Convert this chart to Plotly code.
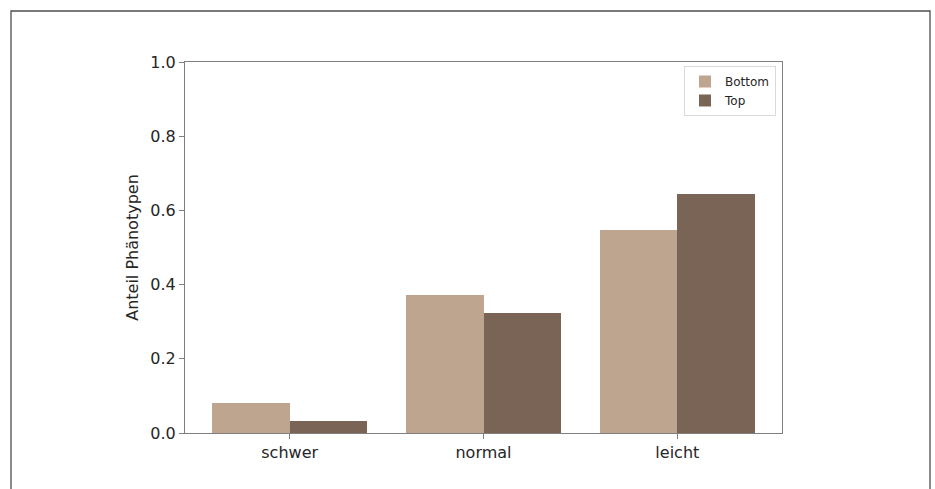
import plotly.graph_objects as go

categories = ["schwer", "normal", "leicht"]
bottom_vals = [0.081, 0.372, 0.547]
top_vals = [0.032, 0.323, 0.644]
y_ticks = [0.0, 0.2, 0.4, 0.6, 0.8, 1.0]
y_tick_labels = ["0.0", "0.2", "0.4", "0.6", "0.8", "1.0"]

x_idx = list(range(len(categories)))

fig = go.Figure()
fig.add_trace(go.Bar(x=[i - 0.2 for i in x_idx], y=bottom_vals, width=0.4,
                     name="Bottom", marker=dict(color="#bea590", line=dict(width=0))))
fig.add_trace(go.Bar(x=[i + 0.2 for i in x_idx], y=top_vals, width=0.4,
                     name="Top", marker=dict(color="#7a6455", line=dict(width=0))))

W, H = 935, 489
L, R, T, B = 185, 782, 62, 433
pw, ph = R - L, B - T

def px(x):
    return (x - L) / pw

def py(y):
    return (B - y) / ph

fig.update_layout(
    width=W, height=H,
    margin=dict(l=L, r=W - R, t=T, b=H - B),
    paper_bgcolor="white", plot_bgcolor="white",
    font=dict(family="DejaVu Sans", size=15, color="#262626"),
    barmode="overlay",
    bargap=0,
    showlegend=True,
    legend=dict(x=px(776), y=py(66), xanchor="right", yanchor="top",
                bgcolor="white", bordercolor="#d9d9d9", borderwidth=1,
                font=dict(size=12, color="#262626"), traceorder="normal",
                itemsizing="constant"),
    xaxis=dict(range=[-0.54, 2.54], tickmode="array", tickvals=x_idx, ticktext=categories,
               showgrid=False, zeroline=False, showline=True, linecolor="#7f7f7f", linewidth=1.2,
               mirror=True, ticks="outside", ticklen=5, tickcolor="#7f7f7f",
               tickfont=dict(size=16)),
    yaxis=dict(range=[0, 1.0], tickmode="array", tickvals=y_ticks, ticktext=y_tick_labels,
               showgrid=False, zeroline=False, showline=True, linecolor="#7f7f7f", linewidth=1.2,
               mirror=True, ticks="outside", ticklen=5, tickcolor="#7f7f7f",
               tickfont=dict(size=16),
               title=dict(text="Anteil Phänotypen", font=dict(size=16), standoff=7)),
    shapes=[dict(type="rect", xref="paper", yref="paper",
                 x0=px(11), x1=px(930), y0=py(520), y1=py(11),
                 line=dict(color="#4d4d4d", width=1.3), fillcolor="rgba(0,0,0,0)", layer="below")],
)

fig.write_html(
    "out.html",
    config={"displayModeBar": False},
    post_script="document.body.style.margin='0';document.body.style.overflow='hidden';",
)
